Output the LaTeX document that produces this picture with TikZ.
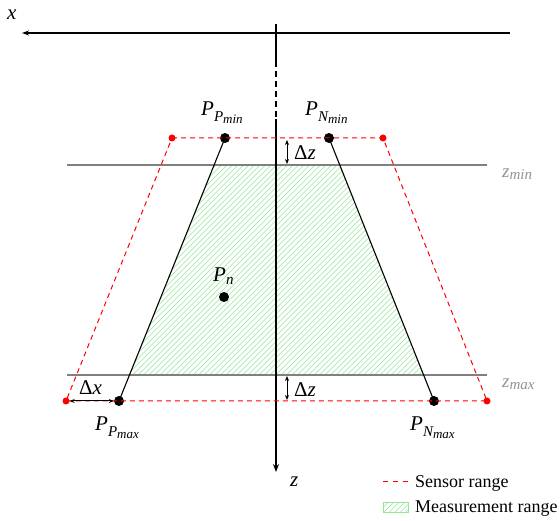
\documentclass[tikz,border=0pt]{standalone}
\usepackage{fontspec}
\setmainfont{Liberation Serif}
\usetikzlibrary{arrows.meta}
\newcommand\subA[1]{\raisebox{-5.5pt}{\fontsize{15}{15}\selectfont\itshape #1}}
\newcommand\subB[1]{\raisebox{-2.5pt}{\fontsize{13}{13}\selectfont\itshape #1}}
\newcommand\subN[1]{\raisebox{-3pt}{\fontsize{15}{15}\selectfont\itshape #1}}
\newcommand\subZ[1]{\raisebox{-1.5pt}{\fontsize{15}{15}\selectfont\itshape #1}}
\definecolor{hatch}{RGB}{150,230,150}
\begin{document}
\begin{tikzpicture}[x=1pt,y=-1pt,
  bdot/.style={circle,fill=black,inner sep=0pt,minimum size=10pt},
  rdot/.style={circle,fill=red,inner sep=0pt,minimum size=7pt},
  sensor/.style={red,dash pattern=on 5pt off 4pt,line width=1pt},
  hline/.style={hatch,line width=0.6pt},
  zlev/.style={gray,line width=1.2pt},
  edge/.style={black,line width=1.1pt},
  axis/.style={black,line width=1.2pt},
  dim/.style={black,line width=1pt,{Stealth[length=5pt,width=4pt]}-{Stealth[length=5pt,width=4pt]}},
  lbl/.style={font=\fontsize{21}{22}\selectfont\itshape,inner sep=0pt,anchor=base west},
  dlbl/.style={font=\fontsize{21}{22}\selectfont,inner sep=0pt,anchor=base west},
  txt/.style={font=\fontsize{18}{20}\selectfont,inner sep=0pt,anchor=base west}]
\useasboundingbox (0,0) rectangle (560,521);
% coordinates
\coordinate (xr) at (510,33);
\coordinate (xl) at (22,33);
\coordinate (zt) at (276,24);
\coordinate (zd1) at (276,61);
\coordinate (zd2) at (276,119);
\coordinate (zb) at (276,472);
\coordinate (zminL) at (67,165);
\coordinate (zminR) at (487,165);
\coordinate (zmaxL) at (67,375);
\coordinate (zmaxR) at (487,375);
% measurement range
\begin{scope}
\clip (intersection of 225,138--119,401 and zminL--zminR)
  -- (intersection of 329,138--434,401 and zminL--zminR)
  -- (intersection of 329,138--434,401 and zmaxL--zmaxR)
  -- (intersection of 225,138--119,401 and zmaxL--zmaxR) -- cycle;
\foreach \i in {-120,-114.5,...,440} \draw[hline] (\i,380) -- ++(220,-220);
\end{scope}
% z levels
\draw[zlev] (zminL) -- (zminR);
\draw[zlev] (zmaxL) -- (zmaxR);
\node[lbl,text=gray!85,font=\fontsize{19}{20}\selectfont\itshape] (zminlab) at (502,178) {z\subZ{min}};
\node[lbl,text=gray!85,font=\fontsize{19}{20}\selectfont\itshape] (zmaxlab) at (502,388) {z\subZ{max}};
% axes
\draw[axis,-{Stealth[length=7pt,width=5pt]}] (xr) -- (xl);
\node[lbl] (xlab) at (7,20) {x};
\draw[axis] (zt) -- (zd1);
\draw[axis,dash pattern=on 6pt off 4pt] (zd1) -- (zd2);
\draw[axis,-{Stealth[length=8pt,width=6pt]}] (zd2) -- (zb);
\node[lbl] (zlab) at (290,486) {z};
% sensor range points
\node[rdot] (sl1) at (172,138) {};
\node[rdot] (sr1) at (383,138) {};
\node[rdot] (sl2) at (66,401) {};
\node[rdot] (sr2) at (487,401) {};
\node[bdot] (ppmin) at (225,138) {};
\node[bdot] (pnmin) at (329,138) {};
\node[bdot] (ppmax) at (119,401) {};
\node[bdot] (pnmax) at (434,401) {};
\node[bdot] (pn) at (224,297) {};
\draw[sensor] (sl1.center) -- (sr1.center) -- (sr2.center) -- (sl2.center) -- cycle;
\draw[edge] (ppmin.center) -- (ppmax.center);
\draw[edge] (pnmin.center) -- (pnmax.center);
% labels
\node[lbl] (lppmin) at (201,116) {P\subA{P\subB{min}}};
\node[lbl] (lpnmin) at (305,116) {P\subA{N\subB{min}}};
\node[lbl] (lppmax) at (95,431) {P\subA{P\subB{max}}};
\node[lbl] (lpnmax) at (410,431) {P\subA{N\subB{max}}};
\node[lbl] (lpn) at (213,282) {P\subN{n}};
% dimensions
\coordinate (dz1a) at (287,140);
\coordinate (dz1b) at (287,164);
\coordinate (dz2a) at (287,376);
\coordinate (dz2b) at (287,400);
\draw[dim] (dz1a) -- (dz1b);
\draw[dim] (dz2a) -- (dz2b);
\node[dlbl] (ldz1) at (294,160) {Δ\textit{z}};
\node[dlbl] (ldz2) at (294,397) {Δ\textit{z}};
\draw[dim] (sl2) -- (ppmax);
\node[dlbl] (ldx) at (79,395) {Δ\textit{x}};
% legend
\coordinate (lg1) at (383,481);
\coordinate (lg2) at (408,481);
\draw[sensor,dash pattern=on 5pt off 5pt] (lg1) -- (lg2);
\node[txt] (lgs) at (415,487) {Sensor range};
\begin{scope}
\clip (383,502) rectangle (408,512);
\foreach \i in {370,375.5,...,412} \draw[hline] (\i,515) -- ++(16,-16);
\end{scope}
\draw[hatch,line width=0.8pt] (383,502) rectangle (408,512);
\node[txt] (lgm) at (415,512) {Measurement range};
\end{tikzpicture}
\end{document}
